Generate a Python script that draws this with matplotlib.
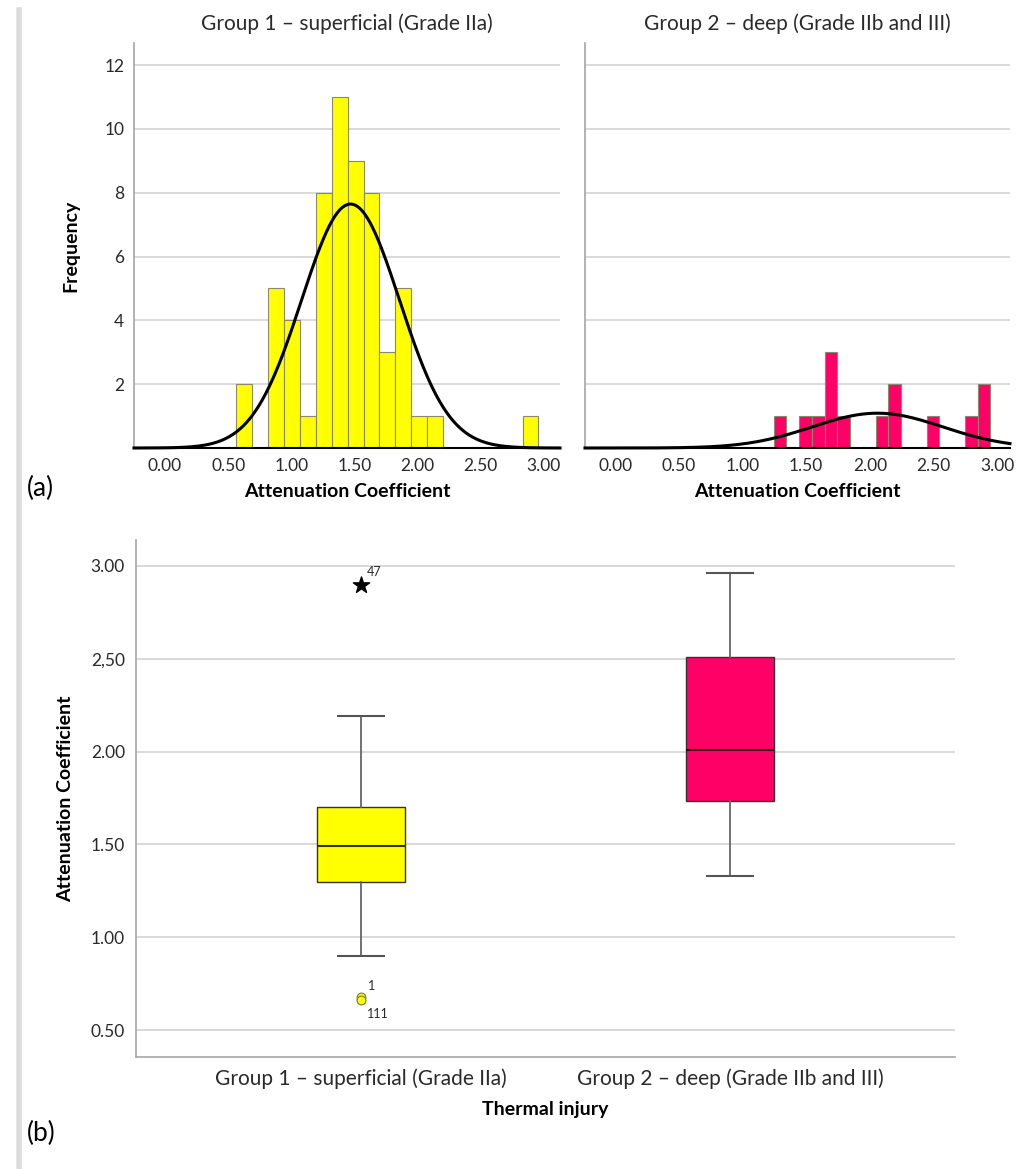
import numpy as np
import matplotlib
matplotlib.use("Agg")
import matplotlib.pyplot as plt
from matplotlib.lines import Line2D

plt.rcParams['font.family'] = ['Lato', 'DejaVu Sans']

# ---------------- data ----------------
groups = ["Group 1 \u2013 superficial (Grade IIa)", "Group 2 \u2013 deep (Grade IIb and III)"]

# histogram group 1
g1_bin_start = 0.565
g1_bin_width = 0.126
g1_counts = [2, 0, 5, 4, 1, 8, 11, 9, 8, 3, 5, 1, 1, 0, 0, 0, 0, 0, 1]
g1_mean, g1_sd, g1_n = 1.47, 0.388, 59

# histogram group 2
g2_bin_start = 1.245
g2_bin_width = 0.100
g2_counts = [1, 0, 1, 1, 3, 1, 0, 0, 1, 2, 0, 0, 1, 0, 0, 1, 2]
g2_mean, g2_sd, g2_n = 2.06, 0.512, 14

hist_xticks = [0.0, 0.5, 1.0, 1.5, 2.0, 2.5, 3.0]
hist_xticklabels = ["0.00", "0.50", "1.00", "1.50", "2.00", "2.50", "3.00"]
hist_yticks = [2, 4, 6, 8, 10, 12]

# box plot statistics
box_q1 = [1.30, 1.735]
box_med = [1.49, 2.01]
box_q3 = [1.70, 2.51]
box_whislo = [0.90, 1.33]
box_whishi = [2.19, 2.96]
outliers_g1 = [0.68, 0.66]
outlier_ids_g1 = ["1", "111"]
extreme_g1 = [2.90]
extreme_ids_g1 = ["47"]

box_yticks = [0.5, 1.0, 1.5, 2.0, 2.5, 3.0]
box_yticklabels = ["0.50", "1.00", "1.50", "2.00", "2,50", "3.00"]

yellow = "#FFFF00"
pink = "#FF0066"
grid_c = "#d9d9d9"
spine_c = "#a6a6a6"
text_c = "#2a2a2a"

W, H = 1022, 1169
fig = plt.figure(figsize=(W / 100, H / 100), dpi=100)

def px_axes(l, r, t, b):
    return fig.add_axes([l / W, 1 - b / H, (r - l) / W, (b - t) / H])

ax1 = px_axes(134, 560, 43, 448)
ax2 = px_axes(585, 1010, 43, 448)

def draw_hist(ax, start, width, counts, mean, sd, n, color, xlim, title, show_y):
    lefts = start + width * np.arange(len(counts))
    ax.set_xlim(*xlim)
    ax.set_ylim(0, 12.69)
    ax.set_yticks(hist_yticks)
    ax.yaxis.grid(True, color=grid_c, lw=1.4, zorder=0)
    ax.set_axisbelow(True)
    ax.bar(lefts, counts, width=width, align='edge', color=color,
           edgecolor="#8a8a6a", linewidth=0.8, zorder=2)
    xs = np.linspace(xlim[0], xlim[1], 400)
    ys = n * width / (sd * np.sqrt(2 * np.pi)) * np.exp(-0.5 * ((xs - mean) / sd) ** 2)
    ax.plot(xs, ys, color="black", lw=2.2, zorder=3, clip_on=False)
    ax.set_xticks(hist_xticks)
    ax.set_xticklabels(hist_xticklabels, fontsize=12.5, color=text_c)
    ax.tick_params(axis='both', length=0, pad=7)
    if show_y:
        ax.set_yticklabels([str(v) for v in hist_yticks], fontsize=12.5, color=text_c)
    else:
        ax.set_yticklabels([])
    for s in ["top", "right"]:
        ax.spines[s].set_visible(False)
    ax.spines["left"].set_color(spine_c)
    ax.spines["left"].set_linewidth(1.2)
    ax.spines["bottom"].set_color("black")
    ax.spines["bottom"].set_linewidth(1.5)
    ax.set_title(title, fontsize=15, color=text_c, pad=9)
    ax.set_xlabel("Attenuation Coefficient", fontsize=14, fontweight='bold',
                  color="black", labelpad=7)

draw_hist(ax1, g1_bin_start, g1_bin_width, g1_counts, g1_mean, g1_sd, g1_n,
          yellow, (-0.246, 3.13), groups[0], True)
draw_hist(ax2, g2_bin_start, g2_bin_width, g2_counts, g2_mean, g2_sd, g2_n,
          pink, (-0.236, 3.10), groups[1], False)
ax1.set_ylabel("Frequency", fontsize=14, fontweight='bold', color="black", labelpad=18)

# ---------------- box plot ----------------
ax3 = px_axes(136, 955, 540, 1057)
ax3.set_xlim(-0.61, 1.61)
ax3.set_ylim(0.355, 3.14)
ax3.set_yticks(box_yticks)
ax3.set_yticklabels(box_yticklabels, fontsize=12.5, color=text_c)
ax3.yaxis.grid(True, color=grid_c, lw=1.4, zorder=0)
ax3.set_axisbelow(True)

stats = []
for i in range(2):
    stats.append(dict(med=box_med[i], q1=box_q1[i], q3=box_q3[i],
                      whislo=box_whislo[i], whishi=box_whishi[i], fliers=[]))
bp = ax3.bxp(stats, positions=[0, 1], widths=0.24, patch_artist=True,
             showfliers=False, capwidths=0.125,
             boxprops=dict(edgecolor="#333333", linewidth=1.0),
             medianprops=dict(color="#3a0010", linewidth=1.5),
             whiskerprops=dict(color="#666666", linewidth=1.3),
             capprops=dict(color="#555555", linewidth=1.5))
for patch, c in zip(bp['boxes'], [yellow, pink]):
    patch.set_facecolor(c)
bp['medians'][0].set_color("#333300")

ax3.scatter([0] * len(outliers_g1), outliers_g1, s=40, facecolor=yellow,
            edgecolor="#777744", linewidth=0.8, zorder=4)
ax3.scatter([0] * len(extreme_g1), extreme_g1, s=150, marker="*",
            color="black", zorder=4)
ax3.annotate(outlier_ids_g1[0], (0, outliers_g1[0]), xytext=(5, 5),
             textcoords='offset points', fontsize=9, color=text_c)
ax3.annotate(outlier_ids_g1[1], (0, outliers_g1[1]), xytext=(4, -13),
             textcoords='offset points', fontsize=9, color=text_c)
ax3.annotate(extreme_ids_g1[0], (0, extreme_g1[0]), xytext=(4, 6),
             textcoords='offset points', fontsize=9, color=text_c)

ax3.set_xticks([0, 1])
ax3.set_xticklabels(groups, fontsize=15, color=text_c)
ax3.tick_params(axis='both', length=0, pad=8)
for s in ["top", "right"]:
    ax3.spines[s].set_visible(False)
for s in ["left", "bottom"]:
    ax3.spines[s].set_color(spine_c)
    ax3.spines[s].set_linewidth(1.2)
ax3.set_xlabel("Thermal injury", fontsize=14, fontweight='bold', color="black", labelpad=9)
ax3.set_ylabel("Attenuation Coefficient", fontsize=14, fontweight='bold',
               color="black", labelpad=12)

# panel letters
fig.text(27 / W, 1 - 488 / H, "(a)", fontsize=19, color="black", va='center', ha='left')
fig.text(27 / W, 1 - 1133 / H, "(b)", fontsize=19, color="black", va='center', ha='left')

# page margin bar
fig.add_artist(Line2D([19 / W, 19 / W], [0, 1 - 10 / H], color="#dcdcdc", lw=4))

fig.savefig("out.png", dpi=100, facecolor="white")
